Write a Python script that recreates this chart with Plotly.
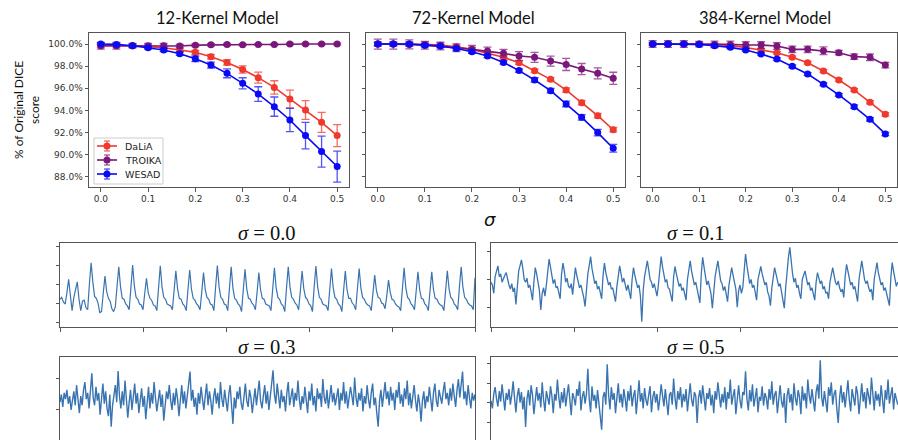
import plotly.graph_objects as go

# ---------------- data: top panels ----------------
sigma = [0.0, 0.033, 0.067, 0.1, 0.133, 0.167, 0.2, 0.233, 0.267, 0.3, 0.333, 0.367, 0.4, 0.433, 0.467, 0.5]

dalia12 = [99.85, 99.85, 99.85, 99.76, 99.67, 99.46, 99.25, 98.86, 98.34, 97.70, 96.96, 96.08, 95.03, 94.04, 92.92, 91.72]
dalia12_err = [0.15, 0.15, 0.15, 0.15, 0.15, 0.15, 0.18, 0.2, 0.25, 0.33, 0.5, 0.6, 0.8, 0.85, 0.9, 1.0]
troika12 = [99.85, 99.85, 99.85, 99.85, 99.85, 99.82, 99.9, 99.93, 99.96, 99.93, 99.96, 99.96, 100.0, 100.0, 100.0, 100.0]
troika12_err = [0.3, 0.3, 0.2, 0.2, 0.2, 0.15, 0.12, 0.1, 0.1, 0.08, 0.08, 0.08, 0.08, 0.08, 0.08, 0.08]
wesad12 = [100.0, 99.97, 99.85, 99.67, 99.46, 99.13, 98.67, 98.10, 97.35, 96.45, 95.48, 94.34, 93.13, 91.72, 90.27, 88.92]
wesad12_err = [0.1, 0.1, 0.1, 0.12, 0.15, 0.15, 0.25, 0.27, 0.4, 0.5, 0.66, 0.87, 1.05, 1.2, 1.4, 1.4]

dalia72 = [100.0, 100.0, 100.0, 99.97, 99.9, 99.76, 99.52, 99.16, 98.8, 98.31, 97.59, 96.81, 95.84, 94.7, 93.52, 92.25]
dalia72_err = [0.2, 0.2, 0.2, 0.2, 0.2, 0.15, 0.15, 0.15, 0.15, 0.15, 0.15, 0.15, 0.2, 0.2, 0.2, 0.2]
troika72 = [100.0, 100.0, 99.97, 99.9, 99.82, 99.67, 99.52, 99.37, 99.16, 98.92, 98.8, 98.46, 98.16, 97.74, 97.35, 96.9]
troika72_err = [0.45, 0.45, 0.4, 0.35, 0.35, 0.35, 0.35, 0.35, 0.35, 0.4, 0.45, 0.45, 0.55, 0.5, 0.5, 0.55]
wesad72 = [100.0, 100.0, 100.0, 99.9, 99.82, 99.6, 99.31, 98.92, 98.34, 97.6, 96.75, 95.78, 94.58, 93.37, 91.99, 90.57]
wesad72_err = [0.15, 0.15, 0.15, 0.15, 0.15, 0.15, 0.15, 0.15, 0.15, 0.15, 0.2, 0.2, 0.25, 0.25, 0.3, 0.35]

dalia384 = [100.0, 100.0, 100.0, 100.0, 99.97, 99.88, 99.7, 99.46, 99.22, 98.8, 98.3, 97.56, 96.75, 95.84, 94.73, 93.64]
dalia384_err = [0.1, 0.1, 0.1, 0.1, 0.1, 0.1, 0.1, 0.1, 0.1, 0.1, 0.12, 0.12, 0.12, 0.12, 0.15, 0.15]
troika384 = [100.0, 100.0, 100.0, 100.0, 99.97, 99.97, 99.91, 99.91, 99.82, 99.52, 99.52, 99.4, 99.22, 98.86, 98.8, 98.1]
troika384_err = [0.3, 0.3, 0.3, 0.25, 0.3, 0.3, 0.3, 0.3, 0.3, 0.3, 0.3, 0.35, 0.2, 0.25, 0.3, 0.25]
wesad384 = [100.0, 100.0, 100.0, 99.97, 99.85, 99.7, 99.46, 99.1, 98.64, 98.0, 97.29, 96.36, 95.4, 94.34, 93.19, 91.87]
wesad384_err = [0.1, 0.1, 0.1, 0.1, 0.1, 0.1, 0.1, 0.1, 0.12, 0.12, 0.12, 0.12, 0.12, 0.15, 0.15, 0.15]

series_names = ["DaLiA", "TROIKA", "WESAD"]
y_ticks = [88, 90, 92, 94, 96, 98, 100]
y_ticklabels = ["88.0%", "90.0%", "92.0%", "94.0%", "96.0%", "98.0%", "100.0%"]
x_ticks = [0.0, 0.1, 0.2, 0.3, 0.4, 0.5]
x_ticklabels = ["0.0", "0.1", "0.2", "0.3", "0.4", "0.5"]

# ---------------- data: signal panels (hundredths) ----------------
sig_00 = [20, 30, 5, -5, 55, 125, 40, -40, 30, 80, 112, 20, -40, 10, 15, -25, -35, 100, 212,
          110, 35, 25, 0, -50, -45, 50, 142, 60, 25, 10, -30, -45, -20, 90, 191,
          85, 25, 20, -5, -15, -35, 80, 200, 90, 30, 20, -5, -10, -35, 50, 130,
          55, 25, 15, -10, -15, -40, 80, 196, 85, 30, 20, -5, -10, -15, -35, 70, 170,
          75, 25, 20, -5, -15, -40, 70, 174, 75, 25, 15, -5, -15, -35, 60, 160,
          70, 30, 20, -5, -10, -40, 85, 198, 85, 30, 20, -5, -10, -40, 80, 191,
          80, 25, 15, -5, -15, -45, 70, 177, 75, 25, 20, 0, -10, -35, 60, 160,
          70, 25, 20, -5, -10, -15, -40, 75, 186, 80, 30, 20, -5, -15, -45, 80, 191,
          85, 30, 20, 0, -10, -35, 65, 168, 75, 30, 20, -5, -15, -45, 85, 195,
          85, 30, 20, -5, -10, -15, -40, 75, 182, 80, 30, 20, -5, -15, -45, 65, 168,
          70, 25, 25, 0, -10, -35, 75, 182, 80, 30, 20, 0, -10, -15, -40, 55, 147,
          65, 30, 25, 0, -5, -30, 40, 121, 55, 20, 15, -5, -15, -20, -40, 80, 186,
          80, 30, 20, -5, -15, -35, 65, 165, 70, 25, 20, -5, -15, -40, 65, 165,
          70, 25, 20, 0, -10, -15, -40, 70, 170, 75, 30, 20, -5, -15, -35, 85, 191,
          85, 30, 20, 0, -10, -15, -35, 133]

sig_01 = [-10, -20, -50, 10, 30, 49, 10, 20, -10, 5, 15, 25, -5, -20, -35, -15, -45, -30, -90, -20,
          30, 50, 71, 40, 0, -10, 5, -30, -20, -45, -75, -10, 43, 20, -5, -40, -110, -50, -30, -60,
          -20, 40, 74, 45, 10, -15, 0, -30, -25, -50, -70, 20, 59, 30, -10, 5, -25, -30, -15, -55,
          10, 43, 15, -5, -30, -20, -40, -65, -98, -30, 20, 50, 83, 40, 5, -15, -5, -35, -25, -45,
          -70, 15, 59, 25, 0, -20, -10, -35, -30, -55, -80, -25, 20, 49, 20, -10, 5, -25, -40, -20,
          -50, -70, 0, 43, 15, -15, -30, -20, -60, -153, -40, 10, 40, 67, 35, 0, -10, -30, -15, -45,
          -60, -20, 40, 83, 45, 10, -10, 0, -30, -35, -55, -80, 10, 47, 20, -5, -25, -15, -40, -30,
          -60, -75, 0, 40, 67, 30, 0, -20, -10, -40, -55, -85, 20, 80, 45, 5, -20, -5, -35, -50,
          -104, -40, 10, 40, 67, 30, -5, -15, -40, -25, -55, -80, -20, 20, 43, 15, -10, -35, -100, -40,
          -20, -50, -30, 40, 92, 50, 10, -15, 0, -30, -20, -50, -75, 0, 30, 47, 20, -5, -20, -10,
          -45, -60, -95, -30, 15, 43, 20, -5, -25, -15, -45, -60, -104, -30, 40, 80, 116, 60, 20, -10,
          5, -30, -20, -50, -70, 0, 15, 31, 5, -20, -10, -40, -30, -55, -75, -10, 25, 5, -15, -5,
          -35, -25, -50, -45, -70, -10, 20, 43, 15, -10, -20, -5, -30, -45, -35, -65, 10, 55, 30, 0,
          -20, -10, -35, -25, -50, -80, 0, 35, 67, 35, 0, -15, -5, -30, -45, -35, -75, 0, 30, 61,
          25, 0, -20, -10, -40, -30, -55, -70, -95, 5, 61, 30, -5, -25, -10]

sig_03 = [25, 50, 10, 55, 35, 65, 20, 45, 0, 30, 60, 15, 80, 35, -10, 45, 15, 65, 90, 35,
          55, 5, 70, 118, 40, 15, 75, 30, 55, -15, 35, 85, 20, 60, 5, -20, 50, -54, 15, 45,
          80, 25, 126, 45, 5, 60, 15, 95, 35, -25, 25, 65, 0, 45, 85, 20, 55, -10, 30, 70,
          10, 45, -30, 35, 75, 5, 55, 20, 90, 40, -5, 30, 65, 10, 50, -35, 20, 60, 35, 80,
          30, 0, 55, 15, 70, 35, -20, 45, 80, 20, 60, 5, 50, 95, 124, 30, 65, 10, 40, -15,
          55, 20, 75, 35, 0, 45, 85, 15, 60, 30, -15, 40, 70, 20, 55, 5, 90, 35, 10, 65,
          30, -5, 50, 80, 15, -45, 40, 5, 60, 35, 75, 20, 0, 55, 85, 30, 10, 65, 40, -10,
          35, 70, 15, 55, 95, 30, 5, 45, 80, 20, 60, 0, 40, 75, 128, 50, 20, 85, 35, 5,
          65, 25, 45, -5, 55, 90, 15, 40, 70, 10, 55, 30, 95, 35, 0, 45, 20, 75, 40, -10,
          60, 30, 85, 15, 45, -5, 70, 35, 55, 10, 100, 40, 20, 65, 5, 50, 80, 25, 55, 15,
          40, 70, 0, 55, 30, 90, 20, 60, 5, 35, 75, 45, 15, 105, 40, 10, 55, 30, 70, -5,
          45, 20, 80, 35, 5, 55, 85, 15, 40, -10, -54, 30, 65, 10, 45, 90, 35, 60, 15, 75,
          30, 55, 0, 65, 40, 90, 20, 50, 10, 70, 35, 95, 15, 55, 5, 40, 80, 30, -5, 50,
          20, -38, 30, 60, 5, 45, 25, 75, 35, -5, 55, 85, 30, 10, 65, 40, 20, 60, 90, 35,
          55, 15, 70, 30, 85, 45, 10, 65, 100, 40, 75, 124, 35, 60, 15, 80, 40, 5, 55, 30,
          50]

sig_05 = [10, -30, 45, 80, 20, -20, 60, 5, 95, 30, -40, 50, 15, 70, -10, 40, 110, 25, -50, 35,
          75, 0, 55, -35, 30, -126, 20, 65, -15, 90, 40, -60, 25, 80, 10, 50, -25, 105, 15, -45,
          60, 20, -10, 85, 35, -55, 45, 10, 120, 30, -30, 55, 0, 75, -20, 40, 95, 15, -65, 50,
          25, -15, 70, 35, 110, -40, 30, 60, -5, 45, 175, 20, -50, 85, 10, 40, -30, 65, 5, -70,
          -140, 30, 55, -10, 199, 40, -35, 80, 15, 50, -55, 25, 100, 0, 45, -25, 70, 20, -45, 60,
          10, 90, -20, 35, 65, -60, 25, 115, 5, 50, -30, 75, 15, -15, 40, 85, -50, 30, 60, 0,
          45, -40, 20, 95, 35, -20, 70, 10, -65, 40, 55, -10, 125, 25, -35, 60, 15, 80, -25, 45,
          5, 70, -45, 30, 100, 15, -20, 55, 35, -105, 25, 65, -5, 90, 10, -40, 50, 20, 75, -15,
          40, -55, 60, 15, 105, 30, -25, 45, 0, 80, -35, 55, 20, 120, -10, 35, 70, -60, 25, 90,
          10, -30, 55, 40, 162, 20, -40, 65, 5, 95, -20, 45, 75, -50, 30, 10, 85, -15, 50, 25,
          -35, 70, 15, 110, -10, 40, 60, -55, 20, 90, 5, -25, 50, -105, 35, 75, 0, 45, -40, 100,
          25, -15, 65, 30, -60, 85, 10, 50, -30, 120, 40, -5, 70, 15, -45, 55, 95, 20, 219, 30,
          -20, 60, 10, -50, 80, 35, 105, -10, 45, 65, -35, -105, 25, 90, 0, 55, -25, 40, 115, 15,
          -45, 70, 30, -15, 85, 45, -60, 20, 100, 5, 55, -30, 75, 35, -10, 130, 25, -40, 60, 10,
          45, -20, 90, 30, -55, 65, 15, 120, -5, 40, 80, -35, 50, 20, -10]

# ---------------- layout helpers ----------------
W, H = 898, 440
def fx(p):
    return p / W
def fy(p):
    return 1 - p / H

AX = "#555555"
TICKFONT = dict(family="DejaVu Sans", size=9, color="#333333")
SIGCOL = "#3a74b0"

series_colors = {"DaLiA": "#f0392e", "TROIKA": "#7b167b", "WESAD": "#0a0af5"}
err_colors = {"DaLiA": "rgba(240,57,46,0.75)", "TROIKA": "rgba(123,22,123,0.7)", "WESAD": "rgba(10,10,245,0.7)"}

fig = go.Figure()

panels = [
    ("x", "y", [dalia12, troika12, wesad12], [dalia12_err, troika12_err, wesad12_err]),
    ("x2", "y2", [dalia72, troika72, wesad72], [dalia72_err, troika72_err, wesad72_err]),
    ("x3", "y3", [dalia384, troika384, wesad384], [dalia384_err, troika384_err, wesad384_err]),
]
for xa, ya, vals_list, err_list in panels:
    for name, vals, errs in zip(series_names, vals_list, err_list):
        fig.add_trace(go.Scatter(
            x=sigma, y=vals, mode="lines+markers", name=name,
            xaxis=xa, yaxis=ya, showlegend=False,
            line=dict(color=series_colors[name], width=1.6),
            marker=dict(color=series_colors[name], size=7),
            error_y=dict(type="data", array=errs, visible=True,
                         color=err_colors[name], thickness=1.3, width=4),
        ))

signals = [("x4", "y4", sig_00, 1.2), ("x5", "y5", sig_01, 1.3), ("x6", "y6", sig_03, 1.4), ("x7", "y7", sig_05, 1.4)]
for xa, ya, sig, lw in signals:
    fig.add_trace(go.Scatter(
        x=list(range(len(sig))), y=[v / 100 for v in sig], mode="lines",
        xaxis=xa, yaxis=ya, showlegend=False, hoverinfo="skip",
        line=dict(color=SIGCOL, width=lw),
    ))

top_y = [fy(187), fy(33)]
top_x = [[fx(89), fx(349)], [fx(366), fx(625)], [fx(641), fx(897)]]

layout = dict(
    width=W, height=H, margin=dict(l=0, r=0, t=0, b=0, autoexpand=False),
    paper_bgcolor="white", plot_bgcolor="white", showlegend=False,
)

for i in range(3):
    sfx = "" if i == 0 else str(i + 1)
    layout["xaxis" + sfx] = dict(
        domain=top_x[i], anchor="y" + sfx, range=[-0.025, 0.525], automargin=False,
        tickvals=x_ticks, ticktext=x_ticklabels, ticks="outside", ticklen=3.5, tickcolor=AX,
        showline=True, linecolor=AX, linewidth=1, mirror=True,
        showgrid=False, zeroline=False, tickfont=TICKFONT,
    )
    layout["yaxis" + sfx] = dict(
        domain=top_y, anchor="x" + sfx, range=[87.07, 101.0], automargin=False,
        tickvals=y_ticks, ticktext=y_ticklabels, ticks="outside", ticklen=3.5,
        tickcolor=AX, showticklabels=(i == 0),
        showline=True, linecolor=AX, linewidth=1, mirror=True,
        showgrid=False, zeroline=False, tickfont=TICKFONT,
    )

# signal panels
bot = [
    ("4", [fx(60), fx(475)], [fy(327), fy(243)], [0, 240], [0, 48, 96, 144, 192, 240], [-1.26, 3.16], [-1, 0, 1, 2, 3], True, True),
    ("5", [fx(491), 1.0], [fy(327), fy(243)], [0, 294.2], [0, 60, 120, 180, 240], [-1.72, 1.32], [-1, 0, 1], False, True),
    ("6", [fx(60), fx(475)], [0, fy(357)], [0, 300], [], [-0.97, 1.71], [0, 1], True, False),
    ("7", [fx(491), 1.0], [0, fy(357)], [0, 294.2], [], [-1.93, 2.36], [-1, 0, 1, 2], False, False),
]
for n, xd, yd, xr, xt, yr, yt, rb, bv in bot:
    if bv:
        layout["xaxis" + n] = dict(
            domain=xd, anchor="y" + n, range=xr, tickvals=xt, showticklabels=False,
            ticks="outside", ticklen=3.5, tickcolor=AX, automargin=False,
            showline=True, linecolor=AX, linewidth=1, mirror=True,
            showgrid=False, zeroline=False,
        )
    else:
        layout["xaxis" + n] = dict(
            domain=xd, anchor="y" + n, range=xr, side="top", showticklabels=False,
            ticks="", showline=True, linecolor=AX, linewidth=1, mirror=False,
            showgrid=False, zeroline=False, automargin=False,
        )
    layout["yaxis" + n] = dict(
        domain=yd, anchor="x" + n, range=yr, tickvals=yt, showticklabels=False,
        ticks="outside", ticklen=3.5, tickcolor=AX, automargin=False,
        showline=True, linecolor=AX, linewidth=1, mirror=rb,
        showgrid=False, zeroline=False,
    )

# ---------------- legend (drawn inside first panel) ----------------
shapes = [dict(type="rect", xref="paper", yref="paper", x0=fx(94), x1=fx(163), y0=fy(184), y1=fy(138),
               line=dict(color="#cccccc", width=1), fillcolor="rgba(255,255,255,0.9)", layer="above")]
annotations = []
for k, name in enumerate(series_names):
    yc = 146 + 14 * k
    c = series_colors[name]
    ec = err_colors[name]
    shapes.append(dict(type="line", xref="paper", yref="paper", x0=fx(97), x1=fx(117), y0=fy(yc), y1=fy(yc),
                       line=dict(color=c, width=1.6), layer="above"))
    shapes.append(dict(type="line", xref="paper", yref="paper", x0=fx(107), x1=fx(107), y0=fy(yc - 5), y1=fy(yc + 5),
                       line=dict(color=ec, width=1.3), layer="above"))
    for dy in (-5, 5):
        shapes.append(dict(type="line", xref="paper", yref="paper", x0=fx(104), x1=fx(110), y0=fy(yc + dy), y1=fy(yc + dy),
                           line=dict(color=ec, width=1.3), layer="above"))
    shapes.append(dict(type="circle", xref="paper", yref="paper", x0=fx(103.5), x1=fx(110.5), y0=fy(yc + 3.5), y1=fy(yc - 3.5),
                       line=dict(color=c, width=0), fillcolor=c, layer="above"))
    annotations.append(dict(text=name, x=fx(123), y=fy(yc), xanchor="left", yanchor="middle",
                            font=dict(family="DejaVu Sans", size=9.5, color="#222222")))
layout["shapes"] = shapes

title_font = dict(family="Lato", size=16.5, color="#111111")
sig_font = dict(family="Liberation Serif", size=20.5, color="#111111")
annotations += [
    dict(text="12-Kernel Model", x=fx(217), y=fy(18), font=title_font),
    dict(text="72-Kernel Model", x=fx(473), y=fy(18), font=title_font),
    dict(text="384-Kernel Model", x=fx(765), y=fy(18), font=title_font),
    dict(text="% of Original DICE<br>score", x=fx(26), y=fy(110), textangle=-90,
         font=dict(family="Lato", size=12, color="#111111")),
    dict(text="<i>σ</i>", x=fx(490), y=fy(219), font=dict(family="DejaVu Sans", size=18, color="#111111")),
    dict(text="<i>σ</i> = 0.0", x=fx(267), y=fy(233), font=sig_font),
    dict(text="<i>σ</i> = 0.1", x=fx(696), y=fy(233), font=sig_font),
    dict(text="<i>σ</i> = 0.3", x=fx(267), y=fy(347), font=sig_font),
    dict(text="<i>σ</i> = 0.5", x=fx(696), y=fy(347), font=sig_font),
]
for a in annotations:
    a.update(xref="paper", yref="paper", showarrow=False)
    a.setdefault("xanchor", "center")
    a.setdefault("yanchor", "middle")
layout["annotations"] = annotations

fig.update_layout(**layout)
fig.write_html("out.html", config={"displayModeBar": False},
               post_script="document.body.style.margin='0px';document.body.style.overflow='hidden';")
